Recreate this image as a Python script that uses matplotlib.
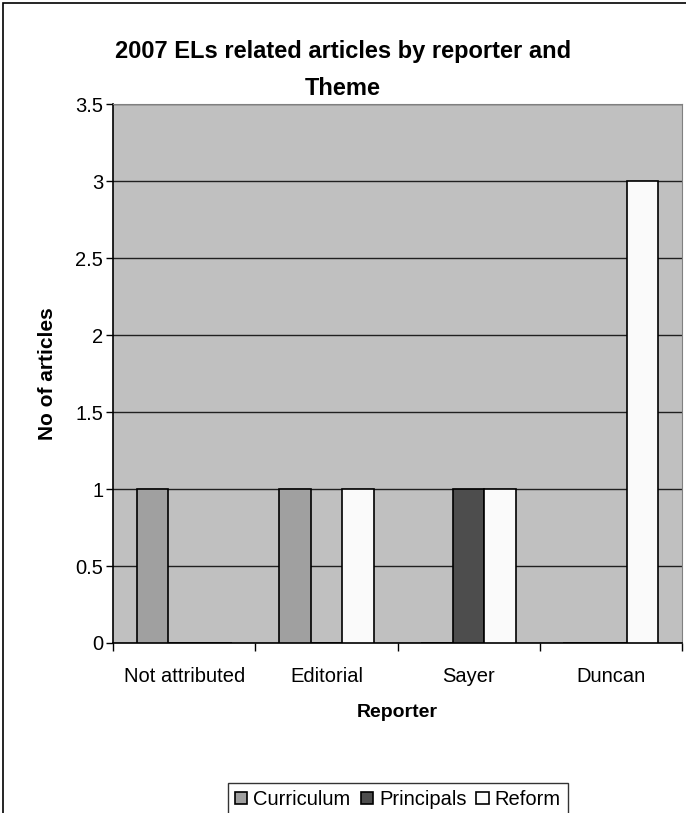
import matplotlib
matplotlib.use('Agg')
import numpy as np
from matplotlib import pyplot as plt
from matplotlib.patches import Rectangle

# Article counts per reporter, split by theme
reporters = ['Not attributed', 'Editorial', 'Sayer', 'Duncan']
curriculum = [1, 1, 0, 0]
principals = [0, 0, 1, 0]
reform = [0, 1, 1, 3]

series = [('Curriculum', curriculum, '#A0A0A0'),
          ('Principals', principals, '#4D4D4D'),
          ('Reform', reform, '#FAFAFA')]

plt.rcParams['font.family'] = ['Liberation Sans', 'DejaVu Sans']

W, H = 686, 813
fig = plt.figure(figsize=(W / 100, H / 100), dpi=100)

# chart frame (runs off the right and bottom edges)
fig.patches.append(Rectangle((3 / W, -0.1), 1.2, 1 - 3 / H + 0.1, transform=fig.transFigure,
                             fill=False, edgecolor='black', linewidth=1.2))

ax = fig.add_axes([113 / W, 1 - 643 / H, (682 - 113) / W, (643 - 104) / H])
ax.set_facecolor('#C0C0C0')

x = np.arange(len(reporters))
width = 1 / 4.5
for i, (name, values, color) in enumerate(series):
    ax.bar(x + (i - 1) * width, values, width, color=color, edgecolor='black',
           linewidth=1.2, label=name, zorder=3)

ax.set_xlim(-0.5, len(reporters) - 0.5)
ax.set_ylim(0, 3.5)
ax.set_yticks(np.arange(0, 3.51, 0.5))
ax.set_yticklabels(['0', '0.5', '1', '1.5', '2', '2.5', '3', '3.5'])
ax.yaxis.grid(True, color='#202020', linewidth=1)
ax.set_axisbelow(True)

# category boundaries as ticks, names centred between them
ax.set_xticks(np.arange(-0.5, len(reporters), 1))
ax.set_xticklabels([])
ax.set_xticks(x, minor=True)
ax.set_xticklabels(reporters, minor=True)
ax.tick_params(axis='x', which='major', length=6, width=1, direction='out')
ax.tick_params(axis='x', which='minor', length=0, pad=17, labelsize=14.5)
ax.tick_params(axis='y', length=5, width=1, direction='out', labelsize=14.5, pad=2)

for side in ['top', 'right']:
    ax.spines[side].set_color('#808080')
for side in ['left', 'bottom']:
    ax.spines[side].set_color('black')
    ax.spines[side].set_linewidth(1.2)

ax.set_xlabel('Reporter', fontsize=14, fontweight='bold', labelpad=13)
ax.set_ylabel('No of articles', fontsize=15, fontweight='bold', labelpad=13)

fig.text(343 / W, 1 - 70 / H, '2007 ELs related articles by reporter and\nTheme',
         ha='center', va='center', fontsize=17, fontweight='bold', linespacing=1.75)

fig.legend(loc='upper center', bbox_to_anchor=(398 / W, 1 - 783 / H), ncol=3,
           fontsize=14.5, frameon=True, fancybox=False, edgecolor='black',
           handlelength=0.6, handleheight=0.6, handletextpad=0.3, columnspacing=0.5,
           borderpad=0.35, borderaxespad=0)

fig.savefig('out.png', dpi=100)
